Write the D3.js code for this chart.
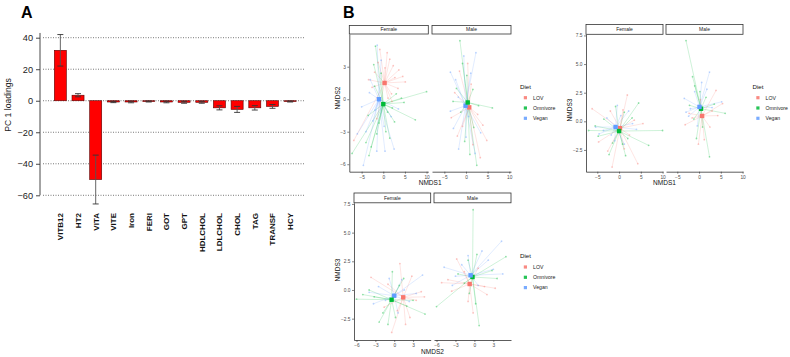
<!DOCTYPE html>
<html>
<head>
<meta charset="utf-8">
<script src="https://cdn.jsdelivr.net/npm/d3@7"></script>
<style>
  body { margin: 0; background: #fff; }
  svg { display: block; font-family: Arial, "Liberation Sans", sans-serif; }
</style>
</head>
<body>
<svg id="chart" width="790" height="357"></svg>
<script>
// ---- panel A data ----
const markers = ["VITB12", "HT2", "VITA", "VITE", "Iron", "FERI", "GOT", "GPT", "HDLCHOL", "LDLCHOL", "CHOL", "TAG", "TRANSF", "HCY"];
const loadings = [32, 3.5, -50, -0.8, -0.8, -0.5, -0.8, -1.0, -1.0, -4.5, -5.5, -4.5, -3.6, -0.5];
const loadErr = [10, 1.0, 15.5, 0.4, 0.5, 0.3, 0.5, 0.6, 0.6, 1.3, 1.9, 1.4, 1.2, 0.3];
const loadTicks = [40, 20, 0, -20, -40, -60];

// ---- panel B data ----
const diets = ["LOV", "Omnivore", "Vegan"];
const dietColors = ["#F8766D", "#00BA38", "#619CFF"];
const sexes = ["Female", "Male"];

// NMDS1 (x) vs NMDS2 (y)
const nmds12Female = [
  ["LOV",4.5,2.1],["LOV",3.6,2.7],["LOV",2.3,3.1],["LOV",1.5,3.7],["LOV",-0.8,4.6],["LOV",0.9,4.3],["LOV",-3.4,1.8],
  ["LOV",-2.0,2.5],["LOV",3.4,1.0],["LOV",1.9,0.5],["LOV",-1.2,3.4],["LOV",2.7,2.0],["LOV",0.4,2.9],["LOV",-2.6,1.1],
  ["LOV",1.1,0.1],["LOV",5.1,1.6],["LOV",-6.8,-3.8],["LOV",2.0,-0.2],["LOV",-1.5,-1.8],
  ["Omnivore",10.0,0.7],["Omnivore",7.4,-1.9],["Omnivore",-7.2,-5.0],["Omnivore",-1.8,4.9],["Omnivore",-2.2,3.2],
  ["Omnivore",4.8,-0.3],["Omnivore",2.1,-0.8],["Omnivore",-4.0,-4.0],["Omnivore",-3.3,-5.2],["Omnivore",0.6,-3.0],
  ["Omnivore",1.5,-3.6],["Omnivore",-1.0,-2.2],["Omnivore",-3.5,-1.5],["Omnivore",3.0,0.5],["Omnivore",-0.5,2.4],
  ["Omnivore",-1.5,-3.2],["Omnivore",2.6,-2.1],["Omnivore",-2.8,-4.4],["Omnivore",1.0,-1.2],["Omnivore",-2.0,1.2],["Omnivore",4.2,0.1],
  ["Vegan",-4.6,-6.1],["Vegan",-1.4,5.0],["Vegan",-5.0,-0.7],["Vegan",2.5,-4.6],["Vegan",-3.2,0.6],["Vegan",-0.5,3.6],
  ["Vegan",0.4,-4.8],["Vegan",-2.4,-2.0],["Vegan",1.8,-1.6],["Vegan",-4.0,-3.0],["Vegan",-1.5,-4.8],["Vegan",0.2,-2.5],
  ["Vegan",-3.0,1.8],["Vegan",-6.0,-3.2],["Vegan",3.5,-0.9],["Vegan",-1.9,-1.0]
];
const nmds12Male = [
  ["LOV",0.4,3.3],["LOV",-1.5,2.6],["LOV",-3.4,-1.7],["LOV",-2.0,-3.4],["LOV",3.9,-2.4],["LOV",4.8,-3.8],["LOV",3.3,-5.4],
  ["LOV",2.7,-1.4],["LOV",-0.8,-2.5],["LOV",1.6,-4.2],["LOV",-2.6,0.6],["LOV",1.2,1.4],
  ["Omnivore",-1.4,5.4],["Omnivore",6.1,-0.8],["Omnivore",2.9,-0.6],["Omnivore",-3.0,-0.2],["Omnivore",2.5,-6.1],
  ["Omnivore",1.6,0.9],["Omnivore",-0.8,3.3],["Omnivore",0.2,2.2],["Omnivore",-2.2,1.0],["Omnivore",-0.3,-3.9],
  ["Omnivore",1.8,-2.6],["Omnivore",-1.2,-1.2],["Omnivore",0.9,-5.1],
  ["Vegan",2.3,4.3],["Vegan",-3.6,2.5],["Vegan",-2.4,1.8],["Vegan",0.0,-3.5],["Vegan",-1.7,-4.6],["Vegan",2.1,-5.0],
  ["Vegan",-2.9,-2.7],["Vegan",1.1,2.4],["Vegan",-0.5,4.0],["Vegan",3.4,-3.1],["Vegan",-1.8,0.2],["Vegan",0.6,-1.6],["Vegan",-3.6,-1.1]
];
const cent12Female = [["LOV",0.3,1.5],["Vegan",-1.0,0.0],["Omnivore",0.0,-0.45]];
const cent12Male = [["LOV",0.75,-0.75],["Vegan",-0.1,-0.6],["Omnivore",0.4,-0.3]];

// NMDS1 (x) vs NMDS3 (y)
const nmds13Female = [
  ["Omnivore",10.0,-0.8],["Omnivore",-7.0,-0.8],["Omnivore",6.8,-2.1],["Omnivore",4.5,1.6],["Omnivore",1.5,-3.0],
  ["Omnivore",-2.3,-2.9],["Omnivore",3.0,0.3],["Omnivore",-4.8,-1.3],["Omnivore",-0.8,1.3],["Omnivore",-3.5,0.2],
  ["Omnivore",0.8,-2.0],["Omnivore",2.0,-1.5],["Omnivore",-1.5,-1.9],["Omnivore",-5.5,-0.4],["Omnivore",1.2,0.8],
  ["LOV",1.9,2.3],["LOV",-6.2,1.1],["LOV",4.3,-3.7],["LOV",-1.6,-4.0],["LOV",3.5,0.1],["LOV",-4.7,-1.8],
  ["LOV",-2.6,-2.6],["LOV",2.4,-1.2],["LOV",0.9,1.0],["LOV",-2.0,0.9],["LOV",5.5,-0.2],["LOV",1.2,-2.4],
  ["Vegan",-0.4,1.4],["Vegan",-4.6,-1.1],["Vegan",-5.4,-0.5],["Vegan",3.1,-0.2],["Vegan",1.2,-2.0],["Vegan",-2.8,0.3],
  ["Vegan",-1.0,-1.7],["Vegan",2.2,0.9],["Vegan",-3.6,-0.8],["Vegan",0.4,0.5],["Vegan",-1.8,-1.2],["Vegan",4.0,-0.7]
];
const nmds13Male = [
  ["Omnivore",-3.0,7.05],["Omnivore",2.4,-3.1],["Omnivore",6.0,0.7],["Omnivore",-1.5,3.9],["Omnivore",-1.0,3.1],
  ["Omnivore",1.6,2.1],["Omnivore",-0.6,-1.5],["Omnivore",3.5,1.5],["Omnivore",-2.2,1.4],["Omnivore",0.8,-0.5],
  ["Omnivore",0.2,2.6],["Omnivore",-1.2,0.2],
  ["Vegan",2.4,4.3],["Vegan",-3.4,2.0],["Vegan",-2.4,0.45],["Vegan",5.2,1.7],["Vegan",-1.0,2.6],["Vegan",1.8,2.8],
  ["Vegan",-3.0,0.8],["Vegan",0.6,3.4],["Vegan",3.0,1.2],["Vegan",-2.0,1.1],["Vegan",-0.4,-0.4],
  ["LOV",3.9,2.7],["LOV",-3.2,-0.3],["LOV",-0.15,-2.0],["LOV",5.4,1.55],["LOV",2.5,-0.5],["LOV",-1.6,0.3],
  ["LOV",1.2,-1.6],["LOV",3.0,0.9],["LOV",-2.3,0.7],["LOV",0.3,1.9],["LOV",4.3,0.5]
];
const cent13Female = [["LOV",0.2,-0.6],["Vegan",-0.8,-0.5],["Omnivore",0.0,-0.85]];
const cent13Male = [["LOV",0.7,0.47],["Omnivore",0.45,1.1],["Vegan",0.1,1.26]];

// NMDS2 (x) vs NMDS3 (y)
const nmds23Female = [
  ["Omnivore",-6.0,-0.8],["Omnivore",4.9,-2.1],["Omnivore",-0.3,1.6],["Omnivore",-2.4,-2.8],["Omnivore",-1.8,-2.0],
  ["Omnivore",-4.0,0.0],["Omnivore",2.0,-1.4],["Omnivore",3.0,-0.9],["Omnivore",-3.2,-0.6],["Omnivore",0.8,0.4],
  ["Omnivore",-1.0,-3.0],["Omnivore",1.5,1.0],["Omnivore",-5.0,-0.4],["Omnivore",0.2,-2.4],
  ["LOV",0.9,2.3],["LOV",-3.7,1.1],["LOV",-0.4,-3.7],["LOV",4.3,-0.15],["LOV",2.5,-2.4],["LOV",3.5,-0.9],
  ["LOV",0.5,-1.8],["LOV",2.8,1.2],["LOV",-1.0,0.5],["LOV",1.8,-3.0],["LOV",-1.6,-1.5],["LOV",4.8,-0.6],
  ["Vegan",4.5,1.3],["Vegan",-3.3,-1.2],["Vegan",3.5,-0.3],["Vegan",-2.5,0.3],["Vegan",1.2,0.9],["Vegan",-1.4,-0.9],
  ["Vegan",2.4,-1.0],["Vegan",-0.8,1.0],["Vegan",0.6,-2.0],["Vegan",-4.0,-0.2],["Vegan",1.6,0.0]
];
const nmds23Male = [
  ["Omnivore",-0.2,7.0],["Omnivore",-6.0,-1.45],["Omnivore",0.75,-3.1],["Omnivore",5.0,2.9],["Omnivore",-1.0,2.6],
  ["Omnivore",-0.8,-0.3],["Omnivore",2.8,1.7],["Omnivore",0.4,3.1],["Omnivore",-2.6,1.4],["Omnivore",0.2,-1.2],
  ["Omnivore",3.6,1.0],["Omnivore",-1.6,0.6],
  ["Vegan",4.3,4.25],["Vegan",-4.8,1.98],["Vegan",3.0,1.8],["Vegan",1.2,3.4],["Vegan",-3.5,0.4],["Vegan",2.2,2.6],
  ["Vegan",-2.0,2.2],["Vegan",0.6,0.4],["Vegan",4.5,1.4],["Vegan",-1.0,3.0],["Vegan",-3.0,1.2],
  ["LOV",-2.8,2.7],["LOV",3.3,0.15],["LOV",-5.2,0.64],["LOV",-0.2,-2.0],["LOV",1.6,0.3],["LOV",-3.6,-0.1],
  ["LOV",-1.6,1.6],["LOV",0.6,1.9],["LOV",-4.2,0.9],["LOV",2.0,-0.4],["LOV",-1.0,-1.0]
];
const cent23Female = [["LOV",1.43,-0.64],["Vegan",0.0,-0.5],["Omnivore",-0.42,-0.85]];
const cent23Male = [["LOV",-0.75,0.52],["Omnivore",-0.3,1.13],["Vegan",-0.6,1.28]];

const svg = d3.select("#chart");
const color = d3.scaleOrdinal().domain(diets).range(dietColors);

// ================= Panel A =================
const gA = svg.append("g");
const xA = d3.scaleBand().domain(markers).range([45.5, 305]).paddingInner(0.32).paddingOuter(0.5);
const yA = d3.scaleLinear().domain([-60, 40]).range([195.3, 37.7]);

gA.append("text").attr("x", 21).attr("y", 18).text("A")
  .attr("font-size", 16).attr("font-weight", "bold");

// dotted grid
gA.selectAll(".grid").data(loadTicks).join("line")
  .attr("class", "grid")
  .attr("x1", 43).attr("x2", 305)
  .attr("y1", d => yA(d)).attr("y2", d => yA(d))
  .attr("stroke", "#555").attr("stroke-width", 0.8)
  .attr("stroke-dasharray", "1,1.5");

// bars
gA.selectAll(".bar").data(markers).join("rect")
  .attr("class", "bar")
  .attr("x", d => xA(d))
  .attr("width", xA.bandwidth())
  .attr("y", (d, i) => yA(Math.max(0, loadings[i])))
  .attr("height", (d, i) => Math.abs(yA(loadings[i]) - yA(0)))
  .attr("fill", "#FF0000")
  .attr("stroke", "#5a0000").attr("stroke-width", 0.6);

// error bars
const eb = gA.selectAll(".err").data(markers).join("g").attr("class", "err");
eb.append("line")
  .attr("x1", d => xA(d) + xA.bandwidth() / 2).attr("x2", d => xA(d) + xA.bandwidth() / 2)
  .attr("y1", (d, i) => yA(loadings[i] + loadErr[i]))
  .attr("y2", (d, i) => yA(loadings[i] - loadErr[i]))
  .attr("stroke", "#555").attr("stroke-width", 0.9);
[1, -1].forEach(s => {
  eb.append("line")
    .attr("x1", d => xA(d) + xA.bandwidth() / 2 - 3).attr("x2", d => xA(d) + xA.bandwidth() / 2 + 3)
    .attr("y1", (d, i) => yA(loadings[i] + s * loadErr[i]))
    .attr("y2", (d, i) => yA(loadings[i] + s * loadErr[i]))
    .attr("stroke", "#333").attr("stroke-width", 0.9);
});

// y axis
const axA = gA.append("g").attr("transform", "translate(40,0)")
  .call(d3.axisLeft(yA).tickValues(loadTicks).tickSize(4).tickPadding(3).tickSizeOuter(0));
axA.select(".domain").remove();
axA.append("line").attr("x1", 0).attr("x2", 0).attr("y1", yA(43)).attr("y2", yA(-60))
  .attr("stroke", "#333").attr("stroke-width", 0.9);
axA.selectAll(".tick line").attr("stroke", "#333").attr("stroke-width", 0.9);
axA.selectAll(".tick text").attr("font-size", 9.2).attr("fill", "#222")
  .attr("font-family", "Arial, 'Liberation Sans', sans-serif");

gA.append("text")
  .attr("transform", "translate(10.5,105) rotate(-90)")
  .attr("text-anchor", "middle").attr("font-size", 8.6).attr("fill", "#222")
  .text("PC 1 loadings");

gA.selectAll(".xlab").data(markers).join("text")
  .attr("class", "xlab")
  .attr("transform", d => `translate(${xA(d) + xA.bandwidth() / 2 + 3},213) rotate(-90)`)
  .attr("text-anchor", "end")
  .attr("font-size", 8).attr("font-weight", "bold").attr("fill", "#111")
  .text(d => d);

// ================= Panel B =================
svg.append("text").attr("x", 343).attr("y", 18).text("B")
  .attr("font-size", 16).attr("font-weight", "bold");

function drawSpider(cfg) {
  const g = svg.append("g");
  const y = d3.scaleLinear().domain(cfg.yDomain).range([cfg.bottom, cfg.top]);

  cfg.facets.forEach((f, fi) => {
    const x = d3.scaleLinear().domain(cfg.xDomain).range([f.left, f.right]);
    const cent = {};
    f.centroids.forEach(c => { cent[c[0]] = c; });

    // strip
    g.append("rect")
      .attr("x", f.left).attr("y", cfg.stripTop)
      .attr("width", f.right - f.left).attr("height", cfg.top - cfg.stripTop)
      .attr("fill", "#fff").attr("stroke", "#333").attr("stroke-width", 0.8);
    g.append("text")
      .attr("x", (f.left + f.right) / 2).attr("y", (cfg.stripTop + cfg.top) / 2 + 1.7)
      .attr("text-anchor", "middle").attr("font-size", 5).attr("fill", "#1a1a1a")
      .text(sexes[fi]);

    // spider legs
    g.append("g").selectAll("line").data(f.points).join("line")
      .attr("x1", d => x(cent[d[0]][1])).attr("y1", d => y(cent[d[0]][2]))
      .attr("x2", d => x(d[1])).attr("y2", d => y(d[2]))
      .attr("stroke", d => color(d[0])).attr("stroke-width", 0.6).attr("stroke-opacity", 0.32);

    g.append("g").selectAll("circle").data(f.points).join("circle")
      .attr("cx", d => x(d[1])).attr("cy", d => y(d[2])).attr("r", 0.9)
      .attr("fill", d => color(d[0])).attr("fill-opacity", 0.4);

    g.append("g").selectAll("rect").data(f.centroids).join("rect")
      .attr("x", d => x(d[1]) - 2.2).attr("y", d => y(d[2]) - 2.2)
      .attr("width", 4.4).attr("height", 4.4)
      .attr("fill", d => color(d[0]));

    // axes
    const ax = g.append("g").attr("transform", `translate(0,${cfg.bottom})`)
      .call(d3.axisBottom(x).tickValues(cfg.xTicks).tickSize(2).tickPadding(1.5).tickSizeOuter(0).tickFormat(cfg.xFormat));
    styleAxis(ax);
    if (fi === 0) {
      const ay = g.append("g").attr("transform", `translate(${f.left},0)`)
        .call(d3.axisLeft(y).tickValues(cfg.yTicks).tickSize(2).tickPadding(1.5).tickSizeOuter(0).tickFormat(cfg.yFormat));
      styleAxis(ay);
    }
  });

  g.append("text")
    .attr("x", (cfg.facets[0].left + cfg.facets[1].right) / 2).attr("y", cfg.bottom + 13.5)
    .attr("text-anchor", "middle").attr("font-size", 6.5).attr("fill", "#111")
    .text(cfg.xTitle);
  g.append("text")
    .attr("transform", `translate(${cfg.yTitleX},${cfg.yTitleY}) rotate(-90)`)
    .attr("text-anchor", "middle").attr("font-size", 6.5).attr("fill", "#111")
    .text(cfg.yTitle);

  // legend
  const lg = g.append("g");
  lg.append("text").attr("x", cfg.legendX).attr("y", cfg.legendY + 2.2)
    .attr("font-size", 6.2).attr("fill", "#111").text("Diet");
  diets.forEach((dname, i) => {
    const ly = cfg.legendY + 11 + i * 10.3;
    lg.append("rect").attr("x", cfg.legendX + 3.8).attr("y", ly - 1.6)
      .attr("width", 3.2).attr("height", 3.2).attr("fill", color(dname)).attr("fill-opacity", 0.85);
    lg.append("text").attr("x", cfg.legendX + 13).attr("y", ly + 1.8)
      .attr("font-size", 5.2).attr("fill", "#222").text(dname);
  });
}

function styleAxis(a) {
  a.select(".domain").attr("stroke", "#333").attr("stroke-width", 0.8);
  a.selectAll(".tick line").attr("stroke", "#333").attr("stroke-width", 0.6);
  a.selectAll(".tick text").attr("font-size", 4.8).attr("fill", "#4d4d4d")
    .attr("font-family", "Arial, 'Liberation Sans', sans-serif");
}

const fmtInt = d3.format("d");
const fmt1 = d3.format(".1f");

drawSpider({
  facets: [
    { left: 349.3, right: 428.3, points: nmds12Female, centroids: cent12Female },
    { left: 432, right: 511, points: nmds12Male, centroids: cent12Male }
  ],
  xDomain: [-7.85, 10.4], yDomain: [-6.69, 6.02],
  top: 34, bottom: 171.7, stripTop: 25.5,
  xTicks: [-5, 0, 5, 10], yTicks: [-6, -3, 0, 3],
  xFormat: fmtInt, yFormat: fmtInt,
  xTitle: "NMDS1", yTitle: "NMDS2", yTitleX: 339.5, yTitleY: 98,
  legendX: 520, legendY: 86.7
});

drawSpider({
  facets: [
    { left: 586, right: 663, points: nmds13Female, centroids: cent13Female },
    { left: 666, right: 743, points: nmds13Male, centroids: cent13Male }
  ],
  xDomain: [-7.6, 10.1], yDomain: [-4.4, 7.6],
  top: 34.3, bottom: 171.7, stripTop: 24.5,
  xTicks: [-5, 0, 5, 10], yTicks: [-2.5, 0, 2.5, 5, 7.5],
  xFormat: fmtInt, yFormat: fmt1,
  xTitle: "NMDS1", yTitle: "NMDS3", yTitleX: 571.5, yTitleY: 110,
  legendX: 752.5, legendY: 86.7
});

drawSpider({
  facets: [
    { left: 354, right: 430.7, points: nmds23Female, centroids: cent23Female },
    { left: 434, right: 511, points: nmds23Male, centroids: cent23Male }
  ],
  xDomain: [-6.4, 5.8], yDomain: [-4.36, 7.6],
  top: 202.8, bottom: 340, stripTop: 193,
  xTicks: [-6, -3, 0, 3], yTicks: [-2.5, 0, 2.5, 5, 7.5],
  xFormat: fmtInt, yFormat: fmt1,
  xTitle: "NMDS2", yTitle: "NMDS3", yTitleX: 339.5, yTitleY: 270,
  legendX: 520, legendY: 256
});
</script>
</body>
</html>
